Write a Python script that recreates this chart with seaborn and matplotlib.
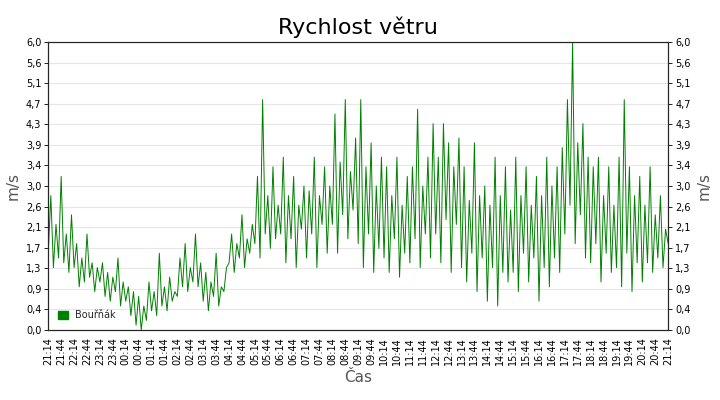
import matplotlib
matplotlib.use("Agg")
import matplotlib.pyplot as plt
import seaborn as sns
import pandas as pd
import numpy as np

# wind speed samples every 6 minutes from 21:14 to 21:14 next day (m/s)
wind = [
    1.6, 2.8, 1.3, 2.2, 1.5, 3.2, 1.4, 2.0, 1.2, 2.4,
    1.3, 1.8, 0.9, 1.5, 1.0, 2.0, 1.1, 1.4, 0.8, 1.3,
    1.0, 1.4, 0.7, 1.2, 0.6, 1.1, 0.8, 1.5, 0.5, 1.0,
    0.6, 0.9, 0.3, 0.8, 0.1, 0.7, 0.0, 0.5, 0.2, 1.0,
    0.4, 0.8, 0.3, 1.6, 0.5, 0.9, 0.4, 1.1, 0.6, 0.8,
    0.7, 1.5, 0.9, 1.8, 0.8, 1.3, 1.0, 2.0, 0.9, 1.4,
    0.6, 1.2, 0.4, 1.0, 0.7, 1.6, 0.5, 0.9, 0.8, 1.3,
    1.4, 2.0, 1.2, 1.8, 1.5, 2.4, 1.3, 1.9, 1.6, 2.2,
    1.8, 3.2, 1.5, 4.8, 2.0, 2.8, 1.7, 3.4, 1.9, 2.6,
    2.0, 3.6, 1.4, 2.8, 1.9, 3.2, 1.3, 2.6, 2.1, 3.0,
    1.5, 2.9, 2.0, 3.6, 1.3, 2.8, 2.2, 3.4, 1.6, 3.0,
    2.2, 4.5, 1.6, 3.5, 2.4, 4.8, 1.9, 3.3, 2.5, 4.0,
    1.8, 4.8, 1.3, 3.4, 2.0, 3.9, 1.2, 3.0, 1.7, 3.6,
    1.5, 3.4, 1.2, 2.8, 1.9, 3.6, 1.1, 2.6, 1.6, 3.2,
    1.4, 3.4, 1.9, 4.6, 1.3, 3.0, 2.0, 3.6, 1.5, 4.3,
    2.0, 3.6, 1.4, 4.3, 2.3, 3.9, 1.2, 3.4, 2.2, 4.0,
    1.3, 3.4, 1.0, 2.7, 1.6, 3.9, 0.8, 2.8, 1.5, 3.0,
    0.6, 2.6, 1.3, 3.6, 0.5, 2.8, 1.2, 3.4, 1.0, 2.5,
    1.2, 3.6, 0.8, 2.8, 1.6, 3.4, 1.0, 2.6, 1.5, 3.2,
    0.6, 2.8, 1.3, 3.6, 0.9, 3.0, 1.5, 3.4, 1.2, 3.8,
    2.0, 4.8, 2.6, 6.0, 1.8, 3.9, 2.4, 4.3, 1.5, 3.6,
    1.4, 3.4, 1.8, 3.6, 1.0, 2.8, 1.6, 3.4, 1.2, 2.6,
    1.3, 3.6, 0.9, 4.8, 1.6, 3.4, 0.8, 2.8, 1.4, 3.2,
    1.0, 2.6, 1.4, 3.4, 1.2, 2.4, 1.5, 2.8, 1.3, 2.1,
    1.8,
]
step_min = 6
start_h, start_m = 21, 14

df = pd.DataFrame({"t": np.arange(len(wind)) * step_min, "v": wind})

tick_pos = list(range(0, 1441, 30))
tick_labels = []
for p in tick_pos:
    total = start_h * 60 + start_m + p
    tick_labels.append("%02d:%02d" % ((total // 60) % 24, total % 60))

yticks = [i * 6 / 14 for i in range(15)]
ylabels = [("%.1f" % y).replace(".", ",") for y in yticks]

sns.set_style("white")
fig = plt.figure(figsize=(7.2, 4), dpi=100)
ax = fig.add_axes([0.067, 0.175, 0.861, 0.72])
sns.lineplot(data=df, x="t", y="v", ax=ax, color="#008000", linewidth=0.7,
             label="Bouřňák")
ax.set_xlim(0, 1440)
ax.set_ylim(0, 6)
ax.set_yticks(yticks)
ax.set_yticklabels(ylabels, fontsize=7)
ax.set_xticks(tick_pos)
ax.set_xticklabels(tick_labels, rotation=90, fontsize=7)
ax.grid(axis="y", color="#e6e6e6", linewidth=0.8)
ax.set_axisbelow(True)
for s in ax.spines.values():
    s.set_color("black")
    s.set_linewidth(0.8)
ax.tick_params(length=3, width=0.6, pad=2, colors="black")
ax.set_xlabel("Čas", fontsize=11, color="#555555")
ax.set_ylabel("m/s", fontsize=11, color="#555555")
ax.set_title("Rychlost větru", fontsize=16, pad=6, color="black")

ax2 = ax.twinx()
ax2.set_ylim(0, 6)
ax2.set_yticks(yticks)
ax2.set_yticklabels(ylabels, fontsize=7)
ax2.tick_params(length=3, width=0.6, pad=2, colors="black")
ax2.set_ylabel("m/s", fontsize=11, color="#555555")

handle = plt.Rectangle((0, 0), 1, 1, color="#008000")
ax.legend([handle], ["Bouřňák"], loc="lower left", frameon=False, fontsize=7,
          handlelength=1, handleheight=1, borderaxespad=0.6)

fig.savefig("out.png", dpi=100)
